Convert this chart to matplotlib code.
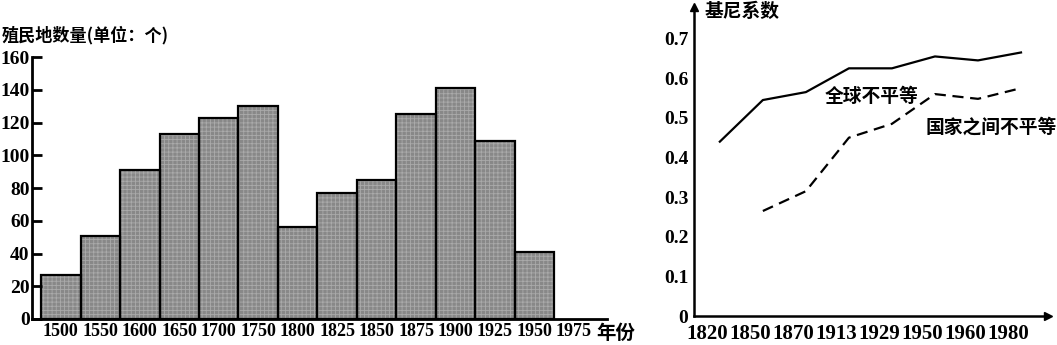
import numpy as np
import matplotlib.pyplot as plt

plt.rcParams['font.family'] = ['Liberation Serif', 'Noto Sans CJK SC', 'DejaVu Sans']
plt.rcParams['hatch.linewidth'] = 0.6
CJK = ['Noto Sans CJK SC', 'DejaVu Sans']

# left chart: colonies per period
years = ['1500', '1550', '1600', '1650', '1700', '1750', '1800', '1825',
         '1850', '1875', '1900', '1925', '1950', '1975']
colonies = [27, 51, 91, 113, 123, 130, 56, 77, 85, 125, 141, 109, 41]

# right chart: gini coefficient
gini_years = ['1820', '1850', '1870', '1913', '1929', '1950', '1960', '1980']
global_gini = [0.44, 0.545, 0.565, 0.625, 0.625, 0.655, 0.645, 0.665]
between_gini = [np.nan, 0.265, 0.315, 0.45, 0.485, 0.56, 0.548, 0.575]

fig = plt.figure(figsize=(10.57, 3.45), dpi=100)

ax1 = fig.add_axes([0.0307, 0.0754, 0.544, 0.759])
x = np.arange(len(colonies))
# stippled fill, then black outline on top
ax1.bar(x, colonies, width=1.0, color='#888888', edgecolor='#aaaaaa', linewidth=0, hatch='++++')
ax1.bar(x, colonies, width=1.0, fill=False, edgecolor='black', linewidth=1.6)
ax1.set_xlim(-0.72, 13.85)
ax1.set_ylim(0, 160)
ax1.set_yticks(np.arange(0, 161, 20))
ax1.set_xticks(np.arange(len(years)))
ax1.set_xticklabels(years)
for s in ['top', 'right']:
    ax1.spines[s].set_visible(False)
for s in ['left', 'bottom']:
    ax1.spines[s].set_linewidth(2)
ax1.tick_params(axis='y', direction='in', length=7, width=2, pad=2, labelsize=14)
ax1.tick_params(axis='x', length=0, pad=3, labelsize=13)
for lab in ax1.get_xticklabels() + ax1.get_yticklabels():
    lab.set_fontweight('bold')
fig.text(0.002, 1 - 35 / 345, '殖民地数量(单位：个)', family=CJK, fontsize=12.3,
         fontweight='bold', va='center', ha='left')
fig.text(596 / 1057, 1 - 333 / 345, '年份', family=CJK, fontsize=14,
         fontweight='bold', va='center', ha='left')

ax2 = fig.add_axes([0.6566, 0.084, 0.335, 0.896])
gx = np.arange(len(gini_years))
ax2.plot(gx, global_gini, color='black', lw=1.6)
ax2.plot(gx, between_gini, color='black', lw=1.6, linestyle=(0, (5, 3)))
ax2.set_xlim(-0.6, 7.63)
ax2.set_ylim(0, 0.78)
ax2.set_yticks(np.arange(0, 0.71, 0.1))
ax2.set_yticklabels(['0', '0.1', '0.2', '0.3', '0.4', '0.5', '0.6', '0.7'])
ax2.set_xticks(gx - 0.3)
ax2.set_xticklabels(gini_years)
for s in ['top', 'right']:
    ax2.spines[s].set_visible(False)
for s in ['left', 'bottom']:
    ax2.spines[s].set_linewidth(1.8)
ax2.tick_params(axis='y', length=0, pad=4, labelsize=14)
ax2.tick_params(axis='x', length=0, pad=6, labelsize=15)
for lab in ax2.get_xticklabels() + ax2.get_yticklabels():
    lab.set_fontweight('bold')
ax2.plot([0], [1], marker='^', color='black', markersize=6, transform=ax2.transAxes, clip_on=False)
ax2.plot([1], [0], marker='>', color='black', markersize=6, transform=ax2.transAxes, clip_on=False)
ax2.text(0.03, 0.985, '基尼系数', transform=ax2.transAxes, family=CJK, fontsize=13.5,
         fontweight='bold', va='center', ha='left')
ax2.text(2.44, 0.554, '全球不平等', family=CJK, fontsize=13.5, fontweight='bold',
         va='center', ha='left')
ax2.text(4.77, 0.476, '国家之间不平等', family=CJK, fontsize=13.5, fontweight='bold',
         va='center', ha='left')

fig.savefig('out.png', dpi=100)
